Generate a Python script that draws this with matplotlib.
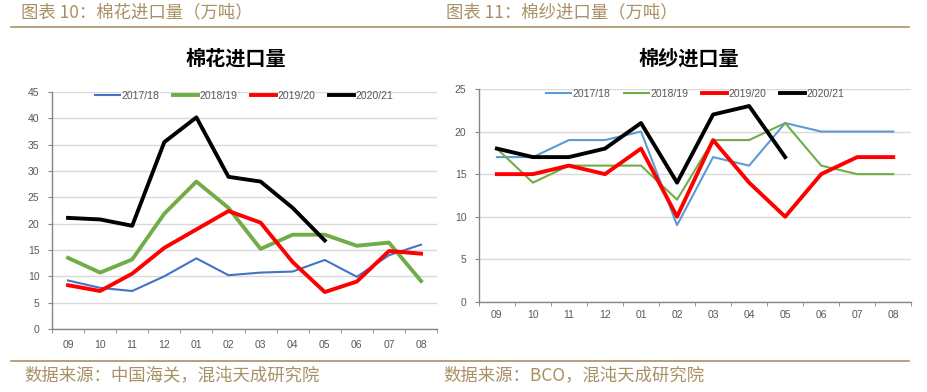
import matplotlib
matplotlib.use("Agg")
import matplotlib.pyplot as plt
import numpy as np

# ===============================================================
# Data
# ===============================================================
MONTHS = ["09", "10", "11", "12", "01", "02", "03", "04", "05", "06", "07", "08"]
SEASONS = ["2017/18", "2018/19", "2019/20", "2020/21"]

cotton_1718 = [9.2, 7.8, 7.2, 10.0, 13.4, 10.2, 10.7, 10.9, 13.1, 9.9, 14.0, 16.0]
cotton_1819 = [13.5, 10.7, 13.2, 21.9, 28.0, 23.0, 15.2, 17.9, 17.9, 15.8, 16.4, 9.1]
cotton_1920 = [8.3, 7.2, 10.5, 15.4, 18.9, 22.4, 20.2, 12.7, 7.0, 9.0, 14.8, 14.3]
cotton_2021 = [21.1, 20.8, 19.6, 35.5, 40.2, 28.9, 28.0, 23.0, 16.8]

yarn_1718 = [17, 17, 19, 19, 20, 9, 17, 16, 21, 20, 20, 20]
yarn_1819 = [18, 14, 16, 16, 16, 12, 19, 19, 21, 16, 15, 15]
yarn_1920 = [15, 15, 16, 15, 18, 10, 19, 14, 10, 15, 17, 17]
yarn_2021 = [18, 17, 17, 18, 21, 14, 22, 23, 17]

# ===============================================================
# Style
# ===============================================================
GOLD = "#A89064"
GRID = "#D9D9D9"
AXIS = "#868686"
TICK_TXT = "#595959"
CJK = ["Noto Sans CJK SC", "DejaVu Sans"]
NUM = ["Liberation Sans", "Noto Sans CJK SC"]

DPI = 100
fig = plt.figure(figsize=(928 / DPI, 392 / DPI), dpi=DPI)
fig.patch.set_facecolor("white")

ax_l = fig.add_axes([0.056, 0.161, 0.415, 0.604])
ax_r = fig.add_axes([0.516, 0.230, 0.466, 0.543])


def style_axis(ax, ymax, ystep, xpad):
    ax.set_xlim(-0.5, len(MONTHS) - 0.5)
    ax.set_ylim(0, ymax)
    ax.set_yticks(np.arange(0, ymax + 0.1, ystep))
    ax.set_xticks(range(len(MONTHS)))
    ax.set_xticklabels(MONTHS)
    ax.set_xticks(np.arange(-0.5, len(MONTHS), 1), minor=True)
    ax.tick_params(axis="x", which="major", length=0, pad=xpad, labelsize=7.5, labelcolor=TICK_TXT)
    ax.tick_params(axis="x", which="minor", length=3, direction="out", color=AXIS)
    ax.tick_params(axis="y", length=3, direction="out", color=AXIS, labelsize=7.5,
                   labelcolor=TICK_TXT, pad=6)
    for lab in ax.get_xticklabels() + ax.get_yticklabels():
        lab.set_family(NUM)
    ax.grid(axis="y", color=GRID, linewidth=1.0)
    ax.set_axisbelow(True)
    for s in ("top", "right"):
        ax.spines[s].set_visible(False)
    for s in ("left", "bottom"):
        ax.spines[s].set_color(AXIS)
        ax.spines[s].set_linewidth(1.0)


x = np.arange(len(MONTHS))

# --- left: cotton ---
ax_l.plot(x, cotton_1718, color="#4472C4", lw=1.5, label=SEASONS[0])
ax_l.plot(x, cotton_1819, color="#70AD47", lw=2.8, label=SEASONS[1])
ax_l.plot(x, cotton_1920, color="#FF0000", lw=2.8, label=SEASONS[2])
ax_l.plot(x[:len(cotton_2021)], cotton_2021, color="#000000", lw=2.8, label=SEASONS[3])
style_axis(ax_l, 45, 5, 8)

# --- right: yarn ---
ax_r.plot(x, yarn_1718, color="#5B9BD5", lw=1.5, label=SEASONS[0])
ax_r.plot(x, yarn_1819, color="#70AD47", lw=1.5, label=SEASONS[1])
ax_r.plot(x, yarn_1920, color="#FF0000", lw=2.8, label=SEASONS[2])
ax_r.plot(x[:len(yarn_2021)], yarn_2021, color="#000000", lw=2.8, label=SEASONS[3])
style_axis(ax_r, 25, 5, 6)

for ax in (ax_l, ax_r):
    ax.legend(loc="upper center", bbox_to_anchor=(0.5, 1.045), ncol=4, frameon=False,
              handlelength=2.4, columnspacing=1.3, handletextpad=0.15,
              prop={"family": NUM, "size": 7.5}, labelcolor=TICK_TXT)

# ===============================================================
# Titles, headers, footers
# ===============================================================
fig.text(0.254, 0.853, "棉花进口量", ha="center", va="center", fontsize=14.5,
         fontweight="bold", family=CJK, color="#000000")
fig.text(0.742, 0.853, "棉纱进口量", ha="center", va="center", fontsize=14.5,
         fontweight="bold", family=CJK, color="#000000")

fig.text(0.023, 0.969, "图表 10：棉花进口量（万吨）", ha="left", va="center",
         fontsize=12.5, family=CJK, color=GOLD)
fig.text(0.481, 0.969, "图表 11：棉纱进口量（万吨）", ha="left", va="center",
         fontsize=12.5, family=CJK, color=GOLD)

fig.text(0.026, 0.043, "数据来源：中国海关，混沌天成研究院", ha="left", va="center",
         fontsize=12.5, family=CJK, color=GOLD)
fig.text(0.478, 0.043, "数据来源：BCO，混沌天成研究院", ha="left", va="center",
         fontsize=12.5, family=CJK, color=GOLD)

fig.add_artist(plt.Line2D([0.012, 0.980], [0.931, 0.931], color=GOLD, lw=1.2,
                          transform=fig.transFigure))
fig.add_artist(plt.Line2D([0.012, 0.980], [0.079, 0.079], color=GOLD, lw=1.2,
                          transform=fig.transFigure))

fig.savefig("out.png", dpi=DPI, facecolor=fig.get_facecolor())
